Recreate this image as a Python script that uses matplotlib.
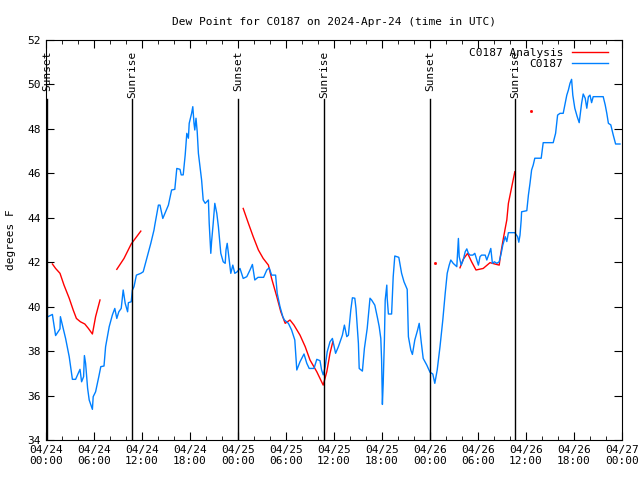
import matplotlib
matplotlib.use("Agg")
import matplotlib.pyplot as plt
import matplotlib.transforms as mtransforms
import numpy as np

# hours since 2024-04-24 00:00 UTC
obs_hours = [0.08, 0.8, 0.9, 1.2, 1.75, 1.8, 2.0, 2.45, 2.9, 3.3, 3.7, 4.25, 4.45, 4.7, 4.8, 4.95, 5.2, 5.4, 5.8, 5.9,
             6.2, 6.6, 6.85, 7.25, 7.45, 7.9, 8.3, 8.6, 8.85, 9.1, 9.4, 9.65, 9.9, 10.2, 10.3, 10.65, 10.8, 11.0, 11.3, 11.85,
             12.15, 12.65, 13.1, 13.5, 13.6, 14.05, 14.25, 14.6, 15.3, 15.7, 16.1, 16.35, 16.75, 16.9, 17.15, 17.4, 17.6, 17.8, 17.9, 18.2,
             18.35, 18.5, 18.6, 18.75, 18.9, 19.05, 19.25, 19.45, 19.65, 19.9, 20.3, 20.4, 20.6, 20.7, 20.9, 21.1, 21.35, 21.55, 21.85, 22.15,
             22.4, 22.5, 22.65, 22.85, 23.1, 23.35, 23.6, 23.9, 24.25, 24.65, 25.1, 25.5, 25.8, 26.1, 26.5, 27.2, 27.6, 27.9, 28.2, 28.7,
             28.9, 29.25, 29.6, 29.8, 30.3, 30.7, 31.1, 31.35, 31.75, 32.25, 32.6, 32.9, 33.5, 33.85, 34.25, 34.45, 34.65, 34.9, 35.15, 35.5,
             35.8, 36.2, 36.55, 37.05, 37.3, 37.6, 37.8, 38.1, 38.3, 38.6, 38.75, 39.05, 39.15, 39.55, 39.8, 40.15, 40.5, 40.7, 41.1, 41.45,
             41.65, 41.85, 41.95, 42.05, 42.15, 42.3, 42.4, 42.6, 42.65, 42.8, 43.2, 43.4, 43.6, 44.1, 44.45, 44.75, 45.15, 45.3, 45.6, 45.8,
             46.1, 46.45, 46.65, 46.9, 47.15, 47.6, 48.0, 48.35, 48.6, 48.9, 49.25, 49.6, 49.9, 50.15, 50.4, 50.6, 50.9, 51.35, 51.55, 51.65,
             51.9, 52.15, 52.4, 52.6, 52.8, 53.0, 53.35, 53.6, 54.05, 54.25, 54.45, 54.9, 55.1, 55.4, 55.6, 55.8, 56.05, 56.35, 56.65, 56.9,
             57.1, 57.4, 57.6, 57.8, 58.6, 58.95, 59.1, 59.25, 59.4, 59.45, 60.1, 60.3, 60.5, 60.7, 60.9, 61.1, 61.9, 62.15, 63.4, 63.7,
             63.95, 64.25, 64.65, 64.9, 65.1, 65.3, 65.5, 65.7, 65.85, 66.1, 66.4, 66.65, 66.95, 67.15, 67.4, 67.6, 67.8, 68.0, 68.2, 68.4,
             69.65, 69.9, 70.1, 70.3, 70.6, 70.9, 71.2, 71.75]
obs_dewpt = [39.52, 39.65, 39.4, 38.7, 39.0, 39.55, 39.25, 38.57, 37.75, 36.73, 36.73, 37.18, 36.62, 36.85, 37.8, 37.45, 36.33, 35.8, 35.38, 35.95,
             36.17, 36.85, 37.3, 37.33, 38.2, 39.1, 39.63, 39.92, 39.47, 39.77, 39.92, 40.75, 40.15, 39.77, 40.18, 40.22, 40.75, 40.9, 41.42, 41.5,
             41.57, 42.25, 42.85, 43.45, 43.67, 44.57, 44.57, 43.97, 44.57, 45.25, 45.28, 46.22, 46.18, 45.93, 45.93, 46.83, 47.8, 47.58, 48.25, 48.7,
             49.0, 48.25, 47.95, 48.48, 47.88, 46.9, 46.3, 45.7, 44.8, 44.65, 44.8, 43.75, 42.4, 42.93, 43.75, 44.65, 44.2, 43.6, 42.4, 42.02,
             41.95, 42.55, 42.85, 42.25, 41.5, 41.87, 41.5, 41.57, 41.72, 41.27, 41.35, 41.65, 41.9, 41.2, 41.32, 41.32, 41.65, 41.75, 41.42, 41.42,
             40.6, 40.0, 39.55, 39.4, 39.25, 38.95, 38.5, 37.15, 37.52, 37.87, 37.45, 37.22, 37.22, 37.63, 37.57, 37.15, 36.93, 37.3, 37.97, 38.42,
             38.57, 37.9, 38.2, 38.72, 39.17, 38.65, 38.72, 39.85, 40.4, 40.38, 39.92, 38.35, 37.22, 37.1, 38.12, 39.02, 40.38, 40.3, 40.07, 39.47,
             39.1, 38.57, 37.6, 35.6, 36.55, 38.5, 40.3, 40.97, 40.38, 39.67, 39.67, 41.35, 42.28, 42.22, 41.5, 41.12, 40.78, 38.65, 38.05, 37.85,
             38.5, 38.95, 39.25, 38.42, 37.67, 37.37, 37.05, 36.97, 36.55, 37.15, 38.2, 39.4, 40.6, 41.5, 41.87, 42.1, 41.95, 41.8, 43.07, 42.25,
             41.87, 42.1, 42.47, 42.6, 42.4, 42.32, 42.32, 42.4, 41.87, 42.25, 42.32, 42.32, 42.1, 42.4, 42.62, 41.95, 42.02, 41.95, 42.02, 42.4,
             42.77, 43.15, 42.93, 43.33, 43.33, 43.15, 42.9, 43.22, 43.9, 44.27, 44.32, 45.02, 45.55, 46.15, 46.37, 46.68, 46.68, 47.38, 47.38, 47.8,
             48.62, 48.7, 48.7, 49.15, 49.52, 49.75, 50.05, 50.23, 49.52, 48.93, 48.55, 48.28, 49.15, 49.57, 49.38, 48.93, 49.45, 49.52, 49.18, 49.45,
             49.45, 49.08, 48.7, 48.25, 48.18, 47.73, 47.32, 47.32]

# analysis segments (NaN = gap)
ana_hours = [0.8, 1.2, 1.75, 2.25, 2.9, 3.4, 3.8, 4.3, 4.85, 5.3, 5.8, 6.2, 6.75, np.nan,
             8.85, 9.75, 10.65, 11.85, np.nan,
             24.65, 25.3, 25.9, 26.55, 27.15, 27.8, 28.2, 28.85, 29.35, 29.9, 30.5, 31.0, 31.75, 32.4, 33.0, 33.85, 34.65, 35.1, 35.5, 35.85, np.nan,
             51.75, 52.15, 52.7, 53.2, 53.75, 54.65, 55.5, 56.1, 56.65, 56.85, 57.1, 57.4, 57.6, 57.8, 58.6]
ana_dewpt = [41.92, 41.72, 41.5, 40.97, 40.38, 39.85, 39.47, 39.32, 39.22, 39.02, 38.77, 39.55, 40.3, np.nan,
             41.68, 42.17, 42.82, 43.4, np.nan,
             44.42, 43.75, 43.15, 42.55, 42.17, 41.87, 41.27, 40.45, 39.77, 39.25, 39.4, 39.17, 38.72, 38.2, 37.6, 37.07, 36.47, 37.07, 37.9, 38.42, np.nan,
             41.75, 42.13, 42.4, 42.02, 41.65, 41.72, 41.98, 41.92, 41.87, 42.4, 42.93, 43.52, 43.9, 44.65, 46.07]
ana_dot_hours = [48.6, 60.6]
ana_dot_dewpt = [41.95, 48.8]

sun_hours = [0.1, 10.8, 24.0, 34.75, 48.0, 58.6]
sun_labels = ["Sunset", "Sunrise", "Sunset", "Sunrise", "Sunset", "Sunrise"]

tick_hours = list(range(0, 73, 6))
tick_labels = ["04/24\n00:00", "04/24\n06:00", "04/24\n12:00", "04/24\n18:00",
               "04/25\n00:00", "04/25\n06:00", "04/25\n12:00", "04/25\n18:00",
               "04/26\n00:00", "04/26\n06:00", "04/26\n12:00", "04/26\n18:00",
               "04/27\n00:00"]

plt.rcParams['font.family'] = ['DejaVu Sans Mono']
fig = plt.figure(figsize=(6.4, 4.8), dpi=100)
ax = fig.add_axes([46/640, 40/480, 576/640, 400/480])

ax.plot(ana_hours, ana_dewpt, color='#ff0000', lw=1.0, label='C0187 Analysis')
ax.plot(obs_hours, obs_dewpt, color='#0080ff', lw=1.0, label='C0187')
ax.plot(ana_dot_hours, ana_dot_dewpt, ls='none', marker='s', ms=1, color='#ff0000')

trans = mtransforms.blended_transform_factory(ax.transData, ax.transAxes)
for h, lab in zip(sun_hours, sun_labels):
    ax.plot([h, h], [0, 0.8525], color='black', lw=1.0, transform=trans)
    ax.text(h, 0.9725, lab, rotation=90, ha='center', va='top', fontsize=8, transform=trans)

ax.set_xlim(0, 72)
ax.set_ylim(34, 52)
ax.set_xticks(tick_hours)
ax.set_xticklabels(tick_labels, fontsize=8)
ax.set_xticks(list(range(0, 73, 2)), minor=True)
ax.set_yticks(list(range(34, 53, 2)))
ax.tick_params(axis='y', labelsize=8)
ax.tick_params(which='major', direction='in', length=6, top=True, right=True)
ax.tick_params(which='minor', direction='in', length=3, top=True, right=True)
ax.set_ylabel('degrees F', fontsize=8)
ax.yaxis.set_label_coords(-0.052, 0.5)
ax.set_title('Dew Point for C0187 on 2024-Apr-24 (time in UTC)', fontsize=8, pad=11)

leg = ax.legend(loc='upper right', frameon=False, markerfirst=False, fontsize=8,
                handlelength=3.2, borderaxespad=0.1, labelspacing=0.1, handletextpad=0.8,
                bbox_to_anchor=(0.985, 0.995))

fig.savefig('out.png', dpi=100)
